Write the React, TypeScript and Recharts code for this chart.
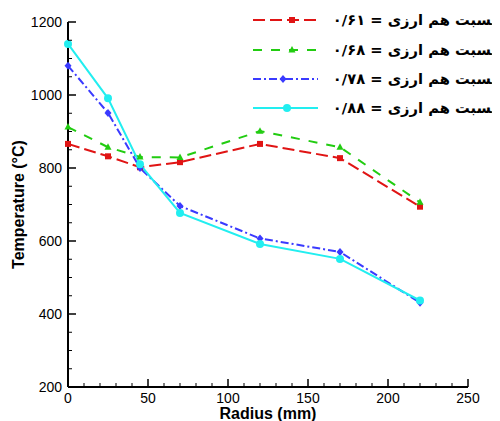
import React from 'react';
import { LineChart, Line, XAxis, YAxis, Legend } from 'recharts';

const radius = [0, 25, 45, 70, 120, 170, 220];
const phi061 = [866, 832, 802, 816, 866, 827, 694];
const phi068 = [912, 857, 830, 829, 901, 857, 706];
const phi078 = [1080, 951, 800, 696, 607, 570, 431];
const phi088 = [1140, 991, 810, 677, 592, 551, 437];

const seriesLabels = [
  'نسبت هم ارزی = ۰/۶۱',
  'نسبت هم ارزی = ۰/۶۸',
  'نسبت هم ارزی = ۰/۷۸',
  'نسبت هم ارزی = ۰/۸۸',
];

const xTicks = Array.from({ length: 26 }, (_, i) => i * 10);
const yTicks = Array.from({ length: 21 }, (_, i) => 200 + i * 50);

const data = radius.map((r, i) => ({
  r,
  a: phi061[i],
  b: phi068[i],
  c: phi078[i],
  d: phi088[i],
}));

const RED = '#e01414';
const GREEN = '#22cc11';
const BLUE = '#3a3aff';
const CYAN = '#22eef0';

const styles = [
  { key: 'a', color: RED, dash: '12 5', shape: 'square' },
  { key: 'b', color: GREEN, dash: '9 9', shape: 'triangle' },
  { key: 'c', color: BLUE, dash: '8 3 2 3', shape: 'diamond' },
  { key: 'd', color: CYAN, dash: undefined as string | undefined, shape: 'circle' },
];

function Marker({ cx, cy, shape, color }: any) {
  if (cx == null || cy == null) return null;
  if (shape === 'square') return <rect x={cx - 3} y={cy - 3} width={6} height={6} fill={color} />;
  if (shape === 'triangle')
    return <polygon points={`${cx},${cy - 4} ${cx - 3.5},${cy + 2.5} ${cx + 3.5},${cy + 2.5}`} fill={color} />;
  if (shape === 'diamond')
    return <polygon points={`${cx},${cy - 4} ${cx + 3.5},${cy} ${cx},${cy + 4} ${cx - 3.5},${cy}`} fill={color} />;
  return <circle cx={cx} cy={cy} r={4} fill={color} />;
}

const makeDot = (shape: string, color: string) => (props: any) => (
  <Marker key={`${shape}-${props.index}`} cx={props.cx} cy={props.cy} shape={shape} color={color} />
);

const XTick = (props: any) => {
  const { x, y, payload } = props;
  const v = payload.value;
  const major = v % 50 === 0;
  return (
    <g>
      <line x1={x} x2={x} y1={y} y2={y - (major ? 8 : 4)} stroke="#000" strokeWidth={major ? 1.5 : 1} />
      {major && (
        <text x={x} y={y + 16} textAnchor="middle" fontSize={14} fontFamily="Liberation Sans, Arial, sans-serif" fill="#000">
          {v}
        </text>
      )}
    </g>
  );
};

const YTick = (props: any) => {
  const { x, y, payload } = props;
  const v = payload.value;
  const major = v % 200 === 0;
  return (
    <g>
      <line x1={x} x2={x + (major ? 8 : 4)} y1={y} y2={y} stroke="#000" strokeWidth={major ? 1.5 : 1} />
      {major && (
        <text x={x - 6} y={y + 5} textAnchor="end" fontSize={14} fontFamily="Liberation Sans, Arial, sans-serif" fill="#000">
          {v}
        </text>
      )}
    </g>
  );
};

const XTitle = (props: any) => {
  const vb = props.viewBox || {};
  return (
    <text x={vb.x + vb.width / 2} y={vb.y + 32} textAnchor="middle" fontSize={16} fontWeight="bold" fontFamily="Liberation Sans, Arial, sans-serif" fill="#000">
      Radius (mm)
    </text>
  );
};

const YTitle = (props: any) => {
  const vb = props.viewBox || {};
  const cy = vb.y + vb.height / 2;
  const tx = 16;
  return (
    <text x={tx} y={cy} transform={`rotate(-90, ${tx}, ${cy})`} textAnchor="middle" fontSize={16} fontWeight="bold" fontFamily="Liberation Sans, Arial, sans-serif" fill="#000">
      Temperature (°C)
    </text>
  );
};

const legendRows = [12, 42, 71, 100];
const legendMarkerX = [284, 284, 275, 279];

const renderLegend = () => (
  <svg width={492} height={120} style={{ display: 'block' }}>
    {styles.map((s, i) => (
      <g key={s.key}>
        <line x1={245} x2={310} y1={legendRows[i]} y2={legendRows[i]} stroke={s.color} strokeWidth={2} strokeDasharray={s.dash} />
        <Marker cx={legendMarkerX[i]} cy={legendRows[i]} shape={s.shape} color={s.color} />
        <text
          x={489}
          y={legendRows[i] + 5}
          direction="rtl"
          textAnchor="start"
          fontSize={14.7}
          fontWeight="bold"
          fontFamily="DejaVu Sans, sans-serif"
          fill="#000"
        >
          {seriesLabels[i]}
        </text>
      </g>
    ))}
  </svg>
);

export default function App() {
  return (
    <LineChart width={492} height={413} data={data} margin={{ top: 14, right: 32, bottom: 0, left: 0 }}>
      <XAxis
        dataKey="r"
        type="number"
        domain={[0, 250]}
        ticks={xTicks}
        interval={0}
        height={34}
        tickSize={0}
        tickMargin={0}
        tickLine={false}
        tick={<XTick />}
        axisLine={{ stroke: '#000', strokeWidth: 2 }}
        label={<XTitle />}
      />
      <YAxis
        type="number"
        domain={[200, 1200]}
        ticks={yTicks}
        interval={0}
        width={60}
        tickSize={0}
        tickMargin={0}
        tickLine={false}
        tick={<YTick />}
        axisLine={{ stroke: '#000', strokeWidth: 2 }}
        label={<YTitle />}
      />
      <Legend
        layout="vertical"
        align="center"
        verticalAlign="middle"
        content={renderLegend}
        wrapperStyle={{ position: 'absolute', top: 0, left: 0, width: 492, height: 120, pointerEvents: 'none' }}
      />
      {styles.map((s, i) => (
        <Line
          key={s.key}
          dataKey={s.key}
          name={seriesLabels[i]}
          stroke={s.color}
          strokeWidth={2}
          strokeDasharray={s.dash}
          dot={makeDot(s.shape, s.color)}
          activeDot={false}
          isAnimationActive={false}
          type="linear"
        />
      ))}
    </LineChart>
  );
}
